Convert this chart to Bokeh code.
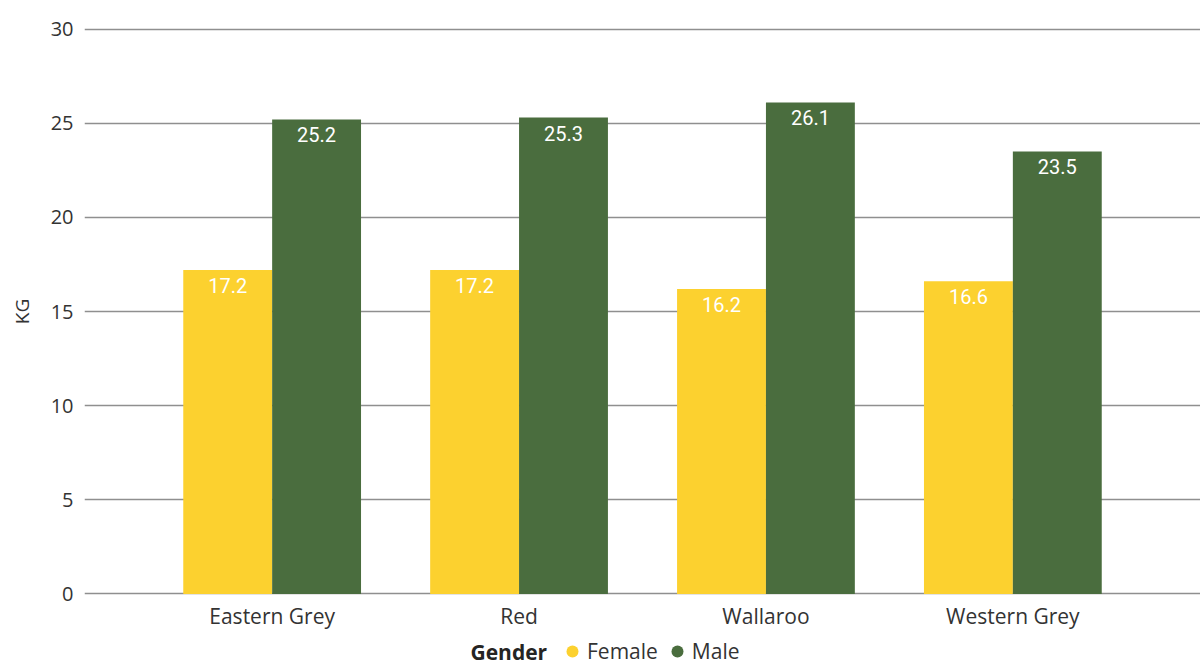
from bokeh.plotting import figure
from bokeh.layouts import column
from bokeh.models import ColumnDataSource, FactorRange, Legend, LegendItem, Range1d, FixedTicker, Label
from bokeh.transform import dodge
from bokeh.core.properties import value
from bokeh.embed import file_html
from bokeh.resources import INLINE

species = ["Eastern Grey", "Red", "Wallaroo", "Western Grey"]
female = [17.2, 17.2, 16.2, 16.6]
male = [25.2, 25.3, 26.1, 23.5]
y_ticks = [0, 5, 10, 15, 20, 25, 30]
legend_title = "Gender"
series_names = ["Female", "Male"]

FEMALE_C = "#FCD12F"
MALE_C = "#4A6D3E"
FONT = "Open Sans"
TXT = "#333333"
LEFT = 84

src = ColumnDataSource(dict(
    species=species,
    female=female,
    male=male,
    female_txt=[f"{v:.1f}" for v in female],
    male_txt=[f"{v:.1f}" for v in male],
))

p = figure(
    width=1200, height=633,
    x_range=FactorRange(factors=species, range_padding=0.26, range_padding_units="absolute"),
    y_range=Range1d(-0.08, 30.08),
    output_backend="svg", toolbar_location=None,
    min_border_left=LEFT, min_border_right=0, min_border_top=27, min_border_bottom=38,
)
p.outline_line_color = None

p.vbar(x=dodge("species", -0.18, range=p.x_range), top="female", width=0.36, source=src,
       fill_color=FEMALE_C, line_color=None)
p.vbar(x=dodge("species", 0.18, range=p.x_range), top="male", width=0.36, source=src,
       fill_color=MALE_C, line_color=None)

for col, off in (("female_txt", -0.18), ("male_txt", 0.18)):
    p.text(x=dodge("species", off, range=p.x_range), y=col.replace("_txt", ""), text=col, source=src,
           text_align="center", text_baseline="top", y_offset=8,
           text_color="white", text_font=value("Roboto"), text_font_size="20px",
           text_font_style="normal")

# grid
p.xgrid.grid_line_color = None
p.ygrid.grid_line_color = "#8f8f8f"
p.ygrid.grid_line_width = 1.5
p.yaxis.ticker = FixedTicker(ticks=y_ticks)

# y axis
p.yaxis.axis_line_color = None
p.yaxis.major_tick_line_color = None
p.yaxis.minor_tick_line_color = None
p.yaxis.major_label_standoff = 5
p.yaxis.major_label_text_font = FONT
p.yaxis.major_label_text_font_size = "20px"
p.yaxis.major_label_text_color = TXT
p.yaxis.axis_label = "KG"
p.yaxis.axis_label_text_font = FONT
p.yaxis.axis_label_text_font_size = "19px"
p.yaxis.axis_label_text_font_style = "normal"
p.yaxis.axis_label_text_color = TXT
p.yaxis.axis_label_standoff = 13

# x axis
p.xaxis.axis_line_color = None
p.xaxis.major_tick_line_color = None
p.xaxis.minor_tick_line_color = None
p.xaxis.major_label_standoff = 0
p.xaxis.major_label_text_font = FONT
p.xaxis.major_label_text_font_size = "21px"
p.xaxis.major_label_text_color = TXT

# legend strip below the chart
lf = figure(
    width=1200, height=33, x_range=Range1d(0, 1), y_range=Range1d(0, 1),
    x_axis_location=None, y_axis_location=None,
    output_backend="svg", toolbar_location=None,
    min_border_left=LEFT, min_border_right=0, min_border_top=0, min_border_bottom=0,
)
lf.grid.visible = False
lf.outline_line_color = None
rf = lf.scatter(x=[-10], y=[-10], marker="circle", size=12, fill_color=FEMALE_C, line_color=None)
rm = lf.scatter(x=[-10], y=[-10], marker="circle", size=12, fill_color=MALE_C, line_color=None)
legend = Legend(
    items=[LegendItem(label=series_names[0], renderers=[rf]),
           LegendItem(label=series_names[1], renderers=[rm])],
    orientation="horizontal", location=(557 - LEFT, 0),
    label_text_font=FONT, label_text_font_size="21px", label_text_color=TXT,
    label_height=22, glyph_width=30, glyph_height=30, label_standoff=-5, spacing=4,
    padding=0, margin=0, border_line_color=None, background_fill_alpha=0,
)
lf.add_layout(legend, "center")
lf.add_layout(Label(x=470 - LEFT, y=15, x_units="screen", y_units="screen", text=legend_title,
                    text_font=FONT, text_font_size="21px", text_font_style="bold",
                    text_color="#252423", text_baseline="middle"))

open("out.html", "w").write(file_html(column(p, lf, spacing=0), INLINE))
